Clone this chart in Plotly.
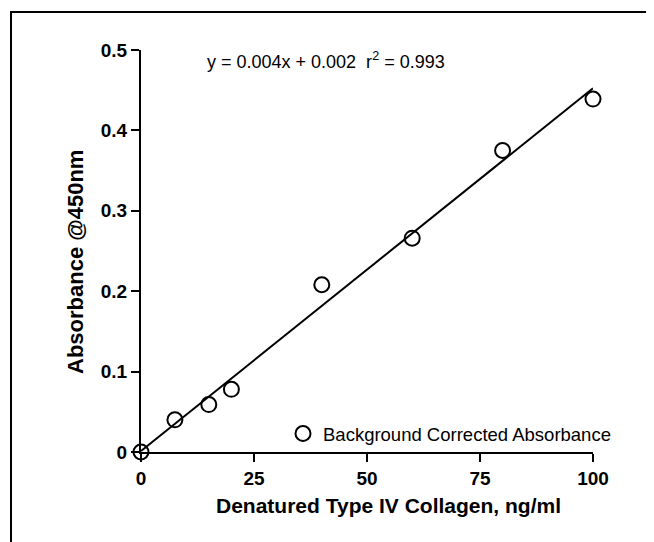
import numpy as np
import plotly.graph_objects as go

# Data
concentration = [0, 7.5, 15, 20, 40, 60, 80, 100]
absorbance = [0.0, 0.040, 0.059, 0.078, 0.208, 0.266, 0.375, 0.439]
x_ticks = [0, 25, 50, 75, 100]
y_ticks = [0, 0.1, 0.2, 0.3, 0.4, 0.5]
y_tick_labels = ["0", "0.1", "0.2", "0.3", "0.4", "0.5"]
equation_text = "y = 0.004x + 0.002  r<sup>2</sup> = 0.993"
series_name = "Background Corrected Absorbance"
x_title = "Denatured Type IV Collagen, ng/ml"
y_title = "Absorbance @450nm"

slope, intercept = np.polyfit(concentration, absorbance, 1)
fit_x = [0, 100]
fit_y = [intercept + slope * v for v in fit_x]

OFF = 8  # page body margin
W, H = 654 - OFF, 542 - OFF
L, T = 141 - OFF, 50 - OFF
pw, ph = 452, 402
R, B = W - L - pw, H - T - ph

def px(xs):  # screen pixel -> paper
    return (xs - OFF - L) / pw

def py(ys):
    return (T + ph - (ys - OFF)) / ph

fig = go.Figure()
fig.add_trace(go.Scatter(
    x=fit_x, y=fit_y, mode="lines",
    line=dict(color="black", width=2), showlegend=False, hoverinfo="skip",
    cliponaxis=False,
))
fig.add_trace(go.Scatter(
    x=concentration, y=absorbance, mode="markers", name=series_name,
    marker=dict(symbol="circle-open", size=15, color="black", line=dict(width=2)),
    cliponaxis=False,
))

font_family = "Liberation Sans, Arial, sans-serif"
tickfont = dict(size=19, family=font_family, weight="bold")
fig.update_layout(
    width=W, height=H,
    margin=dict(l=L, r=R, t=T, b=B),
    paper_bgcolor="white", plot_bgcolor="white",
    font=dict(family=font_family, color="black", size=15),
    xaxis=dict(
        range=[0, 100], tickvals=x_ticks, showgrid=False, zeroline=False,
        showline=True, linecolor="black", linewidth=2,
        ticks="outside", ticklen=8, tickwidth=2, tickcolor="black",
        tickfont=tickfont,
    ),
    yaxis=dict(
        range=[0, 0.5], tickvals=y_ticks, ticktext=y_tick_labels,
        showgrid=False, zeroline=False,
        showline=True, linecolor="black", linewidth=2,
        ticks="outside", ticklen=8, tickwidth=2, tickcolor="black",
        tickfont=tickfont,
    ),
    legend=dict(
        x=px(283), y=py(434), xanchor="left", yanchor="middle",
        bgcolor="rgba(0,0,0,0)", font=dict(size=18.5), itemwidth=30,
    ),
    annotations=[
        dict(
            text=equation_text, xref="paper", yref="paper",
            x=px(326), y=py(60), xanchor="center", yanchor="middle",
            showarrow=False, font=dict(size=18),
        ),
        dict(
            text="<b>" + x_title + "</b>", xref="paper", yref="paper",
            x=px(388), y=py(505), xanchor="center", yanchor="middle",
            showarrow=False, font=dict(size=21),
        ),
        dict(
            text="<b>" + y_title + "</b>", xref="paper", yref="paper",
            x=px(75), y=py(262), xanchor="center", yanchor="middle",
            showarrow=False, font=dict(size=22), textangle=-90,
        ),
    ],
    shapes=[dict(
        type="rect", xref="paper", yref="paper",
        x0=px(11), x1=px(652), y0=py(560), y1=py(12),
        line=dict(color="black", width=2), fillcolor="rgba(0,0,0,0)",
    )],
)

fig.write_html("out.html")
